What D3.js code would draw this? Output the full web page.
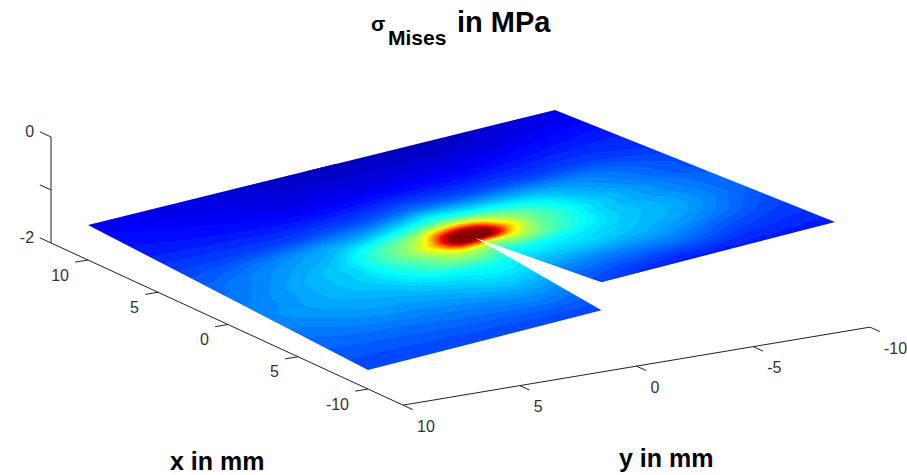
<!DOCTYPE html>
<html>
<head>
<meta charset="utf-8">
<script src="https://cdnjs.cloudflare.com/ajax/libs/d3/7.8.5/d3.min.js"></script>
<style>
  html, body { margin: 0; background: #fff; }
  text { font-family: "Liberation Sans", Arial, sans-serif; }
</style>
</head>
<body>
<svg id="chart" width="907" height="475"></svg>
<script>
// tick values and labels
const xTicks = [10, 5, 0, -5, -10];
const xTickLabels = ['10', '5', '0', '5', '-10'];
const yTicks = [10, 5, 0, -5, -10];
const yTickLabels = ['10', '5', '0', '-5', '-10'];
const zTicks = [0, -1, -2];
const zTickLabels = ['0', '', '-2'];

// grid the stress was read on (mm), tighter around the crack tip
const xGrid = [-10, -7, -5, -3.5, -2.5, -1.7, -1.1, -0.6, -0.1, 0.5, 1.2, 2, 3.5, 6, 10];
const yGrid = [-10, -7, -5, -3.5, -2.5, -1.5, -0.75, 0, 0.75, 1.5, 2.5, 3.5, 5, 7, 10];

// stress, as percent of the colour range. one row per xGrid value
const sigma = [
  [15, 15, 15, 15, 16, 17, 18, 19, 19, 19, 19, 19, 19, 19, 19],
  [18, 21, 25, 25, 25, 25, 26, 26, 27, 27, 26, 25, 24, 23, 22],
  [20, 27, 30, 32, 33, 33, 33, 33, 34, 34, 32, 30, 28, 27, 24],
  [22, 29, 32, 35, 37, 38, 39, 38, 40, 39, 37, 35, 31, 29, 26],
  [22, 29, 33, 39, 44, 49, 50, 46, 50, 49, 45, 39, 33, 30, 26],
  [22, 28, 33, 41, 47, 57, 62, 60, 62, 57, 48, 42, 34, 30, 25],
  [22, 28, 34, 42, 50, 66, 98, 104, 98, 66, 52, 44, 34, 30, 25],
  [21, 28, 34, 43, 50, 72, 104, 112, 104, 72, 53, 45, 34, 30, 24],
  [20, 27, 33, 42, 50, 63, 94, 102, 94, 63, 51, 44, 34, 29, 24],
  [20, 26, 32, 40, 47, 56, 71, 78, 71, 56, 48, 42, 32, 28, 23],
  [20, 25, 30, 36, 40, 45, 50, 52, 50, 45, 40, 36, 30, 27, 23],
  [19, 24, 27, 30, 32, 34, 37, 39, 37, 34, 31, 29, 28, 25, 21],
  [17, 19, 19, 20, 20, 21, 22, 23, 22, 21, 20, 20, 19, 19, 19],
  [15, 14, 13, 12, 12, 12, 12, 12, 12, 12, 12, 12, 13, 14, 15],
  [10, 8, 6, 6, 6, 6, 6, 6, 6, 7, 7, 8, 9, 10, 12]
];

// height of the two crack faces, at x = 10, tip, -10
const surfaceX = [10, -1, -10];
const zFarNeg = [-0.64, -0.46, -0.32];   // y = -10
const zCrackNeg = [-0.99, -0.98, -0.72]; // y = 0, negative side
const zCrackPos = [-0.99, -0.98, -1.25]; // y = 0, positive side
const zFarPos = [-1.34, -1.5, -1.64];    // y = 10
const crackTip = -1;

const xMax = 12.64, xMin = -12.5;

// oblique projection, fitted on the axis ticks
const xToLeft = d3.scaleLinear([10, -10], [88, 368]);
const xToTop = d3.scaleLinear([10, -10], [260, 389]);
const yToLeft = d3.scaleLinear([10, -10], [0, 467]);
const yToTop = d3.scaleLinear([10, -10], [0, -78]);
const zToTop = d3.scaleLinear([-2, 0], [0, -106]);

const project = (x, y, z) => [xToLeft(x) + yToLeft(y), xToTop(x) + yToTop(y) + zToTop(z)];

// MATLAB jet
const jet = d3.scaleLinear()
  .domain([0, 12.5, 37.5, 62.5, 87.5, 100])
  .range(['#000080', '#0000ff', '#00ffff', '#ffff00', '#ff0000', '#800000'])
  .clamp(true);

const svg = d3.select('#chart');

// fine resampling of the table, only to get round colour bands
const catmull = (a, b, c, d, t) =>
  0.5 * (2 * b + (c - a) * t + (2 * a - 5 * b + 4 * c - d) * t * t + (3 * b - a - 3 * c + d) * t * t * t);

const xIndex = d3.scaleLinear(xGrid, d3.range(xGrid.length));
const yIndex = d3.scaleLinear(yGrid, d3.range(yGrid.length));

const sampleSigma = (x, y) => {
  const fx = xIndex(x), fy = yIndex(y);
  const ix = Math.min(Math.floor(fx), xGrid.length - 2), iy = Math.min(Math.floor(fy), yGrid.length - 2);
  const clampX = i => Math.max(0, Math.min(xGrid.length - 1, i));
  const clampY = i => Math.max(0, Math.min(yGrid.length - 1, i));
  const row = k => {
    const r = sigma[clampX(ix + k)];
    return catmull(r[clampY(iy - 1)], r[clampY(iy)], r[clampY(iy + 1)], r[clampY(iy + 2)], fy - iy);
  };
  return catmull(row(-1), row(0), row(1), row(2), fx - ix);
};

const nGrid = 241;
const gridToMm = d3.scaleLinear([0.5, nGrid - 0.5], [-10, 10]);
const values = new Float64Array(nGrid * nGrid);
for (let j = 0; j < nGrid; j++) {
  for (let i = 0; i < nGrid; i++) {
    values[i + j * nGrid] = sampleSigma(gridToMm(j + 0.5), gridToMm(i + 0.5));
  }
}
// takes the corners off the table's knots
if (d3.blur2) d3.blur2({data: values, width: nGrid}, 2);

const levels = d3.range(0, 100, 100 / 64);
const bands = d3.contours().size([nGrid, nGrid]).thresholds(levels)(values);

const drawHalf = (name, zFar, zCrack, yFar, corners) => {
  const far = d3.scaleLinear(surfaceX, zFar);
  const crack = d3.scaleLinear(surfaceX, zCrack);
  const place = (x, y) => project(x, y, crack(x) + (far(x) - crack(x)) * (y / yFar));

  // a mask and not a clipPath: clipping each stacked band darkens the edge
  svg.append('mask').attr('id', 'mask-' + name)
    .attr('maskUnits', 'userSpaceOnUse')
    .attr('x', 0).attr('y', 0).attr('width', 907).attr('height', 475)
    .append('polygon')
    .attr('fill', '#fff')
    .attr('points', corners.map(c => place(c[0], c[1]).join(',')).join(' '));

  const path = d3.geoPath(d3.geoTransform({
    point(gi, gj) {
      const p = place(gridToMm(gj), gridToMm(gi));
      this.stream.point(p[0], p[1]);
    }
  }));

  svg.append('g')
    .attr('mask', `url(#mask-${name})`)
    .selectAll('path')
    .data(bands)
    .join('path')
    .attr('d', path)
    .attr('fill', d => jet(d.value + 50 / 64))
    .attr('shape-rendering', 'crispEdges');
};

// the halves overlap ahead of the tip so no seam shows
drawHalf('neg', zFarNeg, zCrackNeg, -10, [[10, 0.6], [-0.6, 0.6], [crackTip, 0], [-10, 0], [-10, -10], [10, -10]]);
drawHalf('pos', zFarPos, zCrackPos, 10, [[10, -0.6], [-0.6, -0.6], [crackTip, 0], [-10, 0], [-10, 10], [10, 10]]);

// axes
const axisColor = '#222';
const line = (a, b) => svg.append('line')
  .attr('x1', a[0]).attr('y1', a[1]).attr('x2', b[0]).attr('y2', b[1])
  .attr('stroke', axisColor).attr('stroke-width', 1);

line(project(xMax, 10, 0), project(xMax, 10, -2));
line(project(xMax, 10, -2), project(xMin, 10, -2));
line(project(xMin, 10, -2), project(xMin, -10, -2));

const tickLabel = (p, txt, anchor) => svg.append('text')
  .attr('x', p[0]).attr('y', p[1])
  .attr('text-anchor', anchor)
  .attr('dominant-baseline', 'central')
  .attr('font-size', 16)
  .attr('fill', '#333')
  .text(txt);

zTicks.forEach((z, i) => {
  const p = project(xMax, 10, z);
  line(p, project(xMax + 0.8, 10, z));
  tickLabel([p[0] - 17, p[1] - 5], zTickLabels[i], 'end');
});
xTicks.forEach((x, i) => {
  const p = project(x, 10, -2);
  line(p, project(x, 10.55, -2));
  tickLabel([p[0] - 19, p[1] + 15], xTickLabels[i], 'end');
});
yTicks.forEach((y, i) => {
  const p = project(xMin, y, -2);
  line(p, project(xMin - 0.7, y, -2));
  tickLabel([p[0] + 14, p[1] + 21], yTickLabels[i], 'start');
});

const bold = (x, y, size, txt) => svg.append('text')
  .attr('x', x).attr('y', y)
  .attr('font-size', size)
  .attr('font-weight', 'bold')
  .attr('fill', '#000')
  .text(txt);

bold(371, 31, 21, 'σ');
bold(388, 45, 21, 'Mises');
bold(457, 32, 29, 'in MPa');
bold(170, 470, 25, 'x in mm');
bold(619, 467, 25, 'y in mm');
</script>
</body>
</html>
